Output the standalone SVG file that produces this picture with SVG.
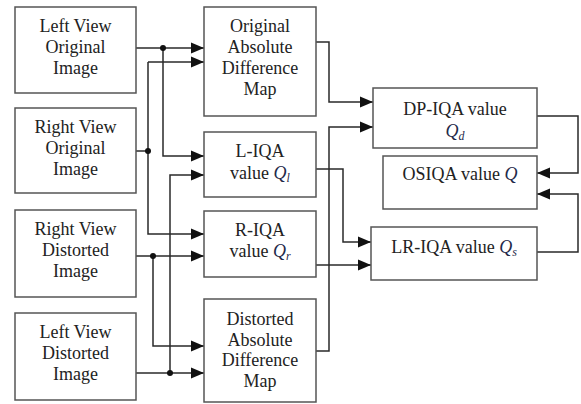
<svg xmlns="http://www.w3.org/2000/svg" width="581" height="404" viewBox="0 0 581 404" font-family="Liberation Serif, DejaVu Serif, serif">
  <defs>
    <style>
      .box { fill: #ffffff; stroke: #555555; stroke-width: 1.5; }
      .lbl { font-size: 18px; fill: #222222; text-anchor: middle; }
      .q { font-style: italic; fill: #1f2a4a; }
      .sub { font-style: italic; font-size: 12px; fill: #1f2a4a; }
      .wire { fill: none; stroke: #2a2a2a; stroke-width: 1.5; }
      .dot { fill: #111111; }
    </style>
    <marker id="arrow" markerUnits="userSpaceOnUse" markerWidth="14" markerHeight="12" refX="13" refY="6" orient="auto">
      <path d="M0,0.5 L13,6 L0,11.5 Z" fill="#111111"/>
    </marker>
  </defs>
  <rect width="581" height="404" fill="#ffffff"/>

  <!-- connectors -->
  <g id="connectors">
    <path class="wire" d="M136,48 H204" marker-end="url(#arrow)"/>
    <path class="wire" d="M163,48 V156 H204" marker-end="url(#arrow)"/>
    <path class="wire" d="M136,151 H148"/>
    <path class="wire" d="M148,62 H204" marker-end="url(#arrow)"/>
    <path class="wire" d="M148,62 V234 H204" marker-end="url(#arrow)"/>
    <path class="wire" d="M136,256 H204" marker-end="url(#arrow)"/>
    <path class="wire" d="M153,256 V346 H204" marker-end="url(#arrow)"/>
    <path class="wire" d="M136,373 H204" marker-end="url(#arrow)"/>
    <path class="wire" d="M170,373 V175 H204" marker-end="url(#arrow)"/>
    <path class="wire" d="M316,42 H329 V102 H373" marker-end="url(#arrow)"/>
    <path class="wire" d="M316,351 H329 V127 H373" marker-end="url(#arrow)"/>
    <path class="wire" d="M316,169 H343 V242 H371" marker-end="url(#arrow)"/>
    <path class="wire" d="M316,265 H371" marker-end="url(#arrow)"/>
    <path class="wire" d="M537,116 H578 V173 H537" marker-end="url(#arrow)"/>
    <path class="wire" d="M537,252 H578 V194 H537" marker-end="url(#arrow)"/>
    <circle class="dot" cx="163" cy="48" r="3"/>
    <circle class="dot" cx="148" cy="151" r="3"/>
    <circle class="dot" cx="153" cy="256" r="3"/>
    <circle class="dot" cx="170" cy="373" r="3"/>
  </g>

  <!-- input images -->
  <g id="left-view-original">
    <rect class="box" x="15" y="7" width="121" height="86"/>
    <text class="lbl" x="75.5" y="32">Left View</text>
    <text class="lbl" x="75.5" y="53">Original</text>
    <text class="lbl" x="75.5" y="74">Image</text>
  </g>
  <g id="right-view-original">
    <rect class="box" x="15" y="108" width="121" height="85"/>
    <text class="lbl" x="75.5" y="133">Right View</text>
    <text class="lbl" x="75.5" y="154">Original</text>
    <text class="lbl" x="75.5" y="175">Image</text>
  </g>
  <g id="right-view-distorted">
    <rect class="box" x="15" y="210" width="121" height="87"/>
    <text class="lbl" x="75.5" y="235">Right View</text>
    <text class="lbl" x="75.5" y="256">Distorted</text>
    <text class="lbl" x="75.5" y="277">Image</text>
  </g>
  <g id="left-view-distorted">
    <rect class="box" x="15" y="313" width="121" height="87"/>
    <text class="lbl" x="75.5" y="338">Left View</text>
    <text class="lbl" x="75.5" y="359">Distorted</text>
    <text class="lbl" x="75.5" y="380">Image</text>
  </g>

  <!-- intermediate stages -->
  <g id="original-adm">
    <rect class="box" x="204" y="7" width="112" height="109"/>
    <text class="lbl" x="260" y="32">Original</text>
    <text class="lbl" x="260" y="53">Absolute</text>
    <text class="lbl" x="260" y="74">Difference</text>
    <text class="lbl" x="260" y="95">Map</text>
  </g>
  <g id="l-iqa">
    <rect class="box" x="204" y="132" width="112" height="65"/>
    <text class="lbl" x="260" y="157">L-IQA</text>
    <text class="lbl" x="260" y="179">value <tspan class="q">Q</tspan><tspan class="sub" dy="3">l</tspan></text>
  </g>
  <g id="r-iqa">
    <rect class="box" x="204" y="211" width="112" height="66"/>
    <text class="lbl" x="260" y="236">R-IQA</text>
    <text class="lbl" x="260" y="257">value <tspan class="q">Q</tspan><tspan class="sub" dy="3">r</tspan></text>
  </g>
  <g id="distorted-adm">
    <rect class="box" x="204" y="299" width="112" height="103"/>
    <text class="lbl" x="260" y="325">Distorted</text>
    <text class="lbl" x="260" y="346">Absolute</text>
    <text class="lbl" x="260" y="366">Difference</text>
    <text class="lbl" x="260" y="387">Map</text>
  </g>

  <!-- quality scores -->
  <g id="dp-iqa">
    <rect class="box" x="373" y="88" width="164" height="60"/>
    <text class="lbl" x="455" y="115">DP-IQA value</text>
    <text class="lbl" x="455" y="137"><tspan class="q">Q</tspan><tspan class="sub" dy="3">d</tspan></text>
  </g>
  <g id="osiqa">
    <rect class="box" x="383" y="156" width="154" height="53"/>
    <text class="lbl" x="460" y="180">OSIQA value <tspan class="q">Q</tspan></text>
  </g>
  <g id="lr-iqa">
    <rect class="box" x="371" y="227" width="166" height="53"/>
    <text class="lbl" x="454" y="253">LR-IQA value <tspan class="q">Q</tspan><tspan class="sub" dy="3">s</tspan></text>
  </g>
</svg>
